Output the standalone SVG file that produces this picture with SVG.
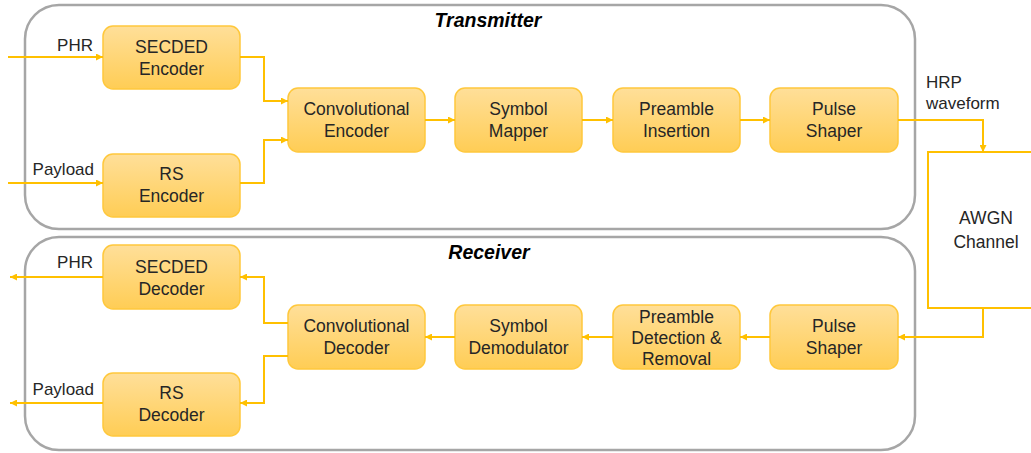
<svg xmlns="http://www.w3.org/2000/svg" width="1031" height="453" viewBox="0 0 1031 453">
<defs>
<linearGradient id="gold" x1="0" y1="0" x2="0" y2="1">
<stop offset="0" stop-color="#FFDF99"/>
<stop offset="1" stop-color="#FFCD55"/>
</linearGradient>
<marker id="arr" markerUnits="userSpaceOnUse" markerWidth="7" markerHeight="7" refX="7" refY="3.5" orient="auto">
<path d="M0,0 L7,3.5 L0,7 z" fill="#FFC000"/>
</marker>
</defs>
<style>
.cont{fill:none;stroke:#A6A6A6;stroke-width:2.5}
.box{fill:url(#gold);stroke:#FFC83C;stroke-width:1.5}
.t{font-family:"Liberation Sans",Arial,sans-serif;font-size:17.5px;fill:#262626;text-anchor:middle}
.lbl{font-family:"Liberation Sans",Arial,sans-serif;font-size:17px;fill:#262626}
.title{font-family:"Liberation Sans",Arial,sans-serif;font-size:19.5px;font-weight:bold;font-style:italic;fill:#000;text-anchor:middle}
.ca{fill:none;stroke:#FFC000;stroke-width:2;marker-end:url(#arr)}
</style>
<rect width="1031" height="453" fill="#fff"/>
<g id="transmitter">
<rect class="cont" x="25" y="5" width="890" height="224" rx="34"/>
<text class="title" x="488" y="27">Transmitter</text>
</g>
<g id="receiver">
<rect class="cont" x="25" y="237" width="890" height="213" rx="34"/>
<text class="title" x="489" y="259">Receiver</text>
</g>
<g id="secded-enc">
<rect class="box" x="103" y="26" width="137" height="63" rx="10"/>
<text class="t" x="171.5" y="53">SECDED</text>
<text class="t" x="171.5" y="75">Encoder</text>
</g>
<g id="rs-enc">
<rect class="box" x="103" y="154" width="137" height="63" rx="10"/>
<text class="t" x="171.5" y="180">RS</text>
<text class="t" x="171.5" y="202">Encoder</text>
</g>
<g id="conv-enc">
<rect class="box" x="288" y="88" width="137" height="64" rx="10"/>
<text class="t" x="356.5" y="115">Convolutional</text>
<text class="t" x="356.5" y="137">Encoder</text>
</g>
<g id="symbol-mapper">
<rect class="box" x="455" y="88" width="127" height="64" rx="10"/>
<text class="t" x="518.5" y="115">Symbol</text>
<text class="t" x="518.5" y="137">Mapper</text>
</g>
<g id="preamble-ins">
<rect class="box" x="613" y="88" width="127" height="64" rx="10"/>
<text class="t" x="676.5" y="115">Preamble</text>
<text class="t" x="676.5" y="137">Insertion</text>
</g>
<g id="pulse-tx">
<rect class="box" x="770" y="88" width="128" height="64" rx="10"/>
<text class="t" x="834" y="115">Pulse</text>
<text class="t" x="834" y="137">Shaper</text>
</g>
<g id="awgn">
<path d="M1033,152 H928 V308 H1033" fill="none" stroke="#FFC000" stroke-width="2"/>
<text class="t" x="986" y="224">AWGN</text>
<text class="t" x="986" y="248">Channel</text>
</g>
<g id="secded-dec">
<rect class="box" x="103" y="245" width="137" height="64" rx="10"/>
<text class="t" x="171.5" y="273">SECDED</text>
<text class="t" x="171.5" y="295">Decoder</text>
</g>
<g id="rs-dec">
<rect class="box" x="103" y="373" width="137" height="63" rx="10"/>
<text class="t" x="171.5" y="399">RS</text>
<text class="t" x="171.5" y="421">Decoder</text>
</g>
<g id="conv-dec">
<rect class="box" x="288" y="305" width="137" height="64" rx="10"/>
<text class="t" x="356.5" y="332">Convolutional</text>
<text class="t" x="356.5" y="354">Decoder</text>
</g>
<g id="symbol-demod">
<rect class="box" x="455" y="305" width="127" height="64" rx="10"/>
<text class="t" x="518.5" y="332">Symbol</text>
<text class="t" x="518.5" y="354">Demodulator</text>
</g>
<g id="preamble-det">
<rect class="box" x="613" y="305" width="127" height="64" rx="10"/>
<text class="t" x="676.5" y="323">Preamble</text>
<text class="t" x="676.5" y="344">Detection &amp;</text>
<text class="t" x="676.5" y="365">Removal</text>
</g>
<g id="pulse-rx">
<rect class="box" x="770" y="305" width="128" height="64" rx="10"/>
<text class="t" x="834" y="332">Pulse</text>
<text class="t" x="834" y="354">Shaper</text>
</g>
<g id="labels">
<text class="lbl" x="93" y="51" text-anchor="end">PHR</text>
<text class="lbl" x="94" y="175" text-anchor="end">Payload</text>
<text class="lbl" x="926" y="88">HRP</text>
<text class="lbl" x="926" y="109">waveform</text>
<text class="lbl" x="93" y="268" text-anchor="end">PHR</text>
<text class="lbl" x="94" y="395" text-anchor="end">Payload</text>
</g>
<g id="connectors">
<path class="ca" d="M8,57 H103"/>
<path class="ca" d="M8,183 H103"/>
<path class="ca" d="M240,57 H264 V101 H288"/>
<path class="ca" d="M240,183 H264 V140 H288"/>
<path class="ca" d="M425,120 H455"/>
<path class="ca" d="M582,120 H613"/>
<path class="ca" d="M740,120 H770"/>
<path class="ca" d="M898,120 H983 V152"/>
<path class="ca" d="M983,308 V337 H898"/>
<path class="ca" d="M770,337 H740"/>
<path class="ca" d="M613,337 H582"/>
<path class="ca" d="M455,337 H425"/>
<path class="ca" d="M288,323 H264 V277 H240"/>
<path class="ca" d="M288,356 H264 V403 H240"/>
<path class="ca" d="M103,277 H10"/>
<path class="ca" d="M103,403 H10"/>
</g>
</svg>
